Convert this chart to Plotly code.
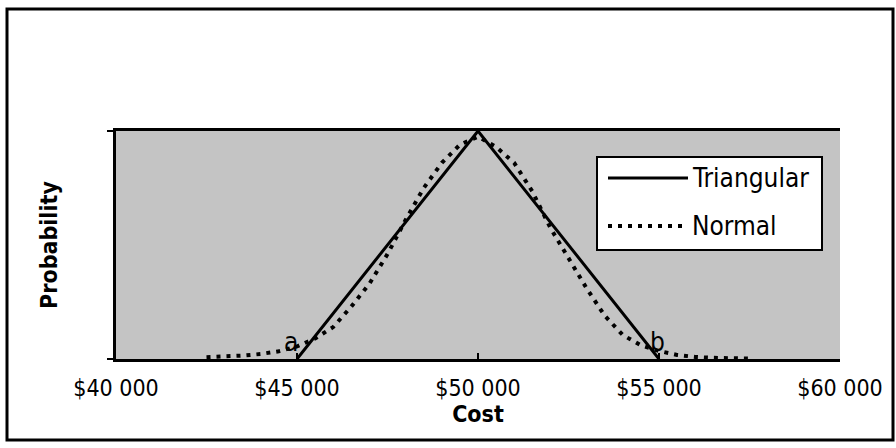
import plotly.graph_objects as go

# ---- data ----
tri_cost = [45000, 50000, 55000]
tri_prob = [0.0, 1.0, 0.0]

normal_cost = [42500, 43000, 43500, 44000, 44500, 45000, 45500, 46000, 46500,
               47000, 47500, 48000, 48500, 49000, 49500, 50000, 50500, 51000,
               51500, 52000, 52500, 53000, 53500, 54000, 54500, 55000, 55500,
               56000, 56500, 57000, 57500]
normal_prob = [0.008, 0.011, 0.015, 0.022, 0.034, 0.055, 0.09, 0.14, 0.23,
               0.33, 0.46, 0.61, 0.75, 0.86, 0.94, 0.975, 0.93, 0.86,
               0.735, 0.575, 0.44, 0.31, 0.19, 0.105, 0.06, 0.035, 0.018,
               0.009, 0.005, 0.003, 0.002]

tick_vals = [40000, 45000, 50000, 55000, 60000]
tick_text = ["$40 000", "$45 000", "$50 000", "$55 000", "$60 000"]

point_labels = ["a", "b"]
point_label_cost = [44830, 54950]
point_label_prob = [0.075, 0.075]

series_names = ["Triangular", "Normal"]

FONT = "DejaVu Sans Condensed, DejaVu Sans, sans-serif"

fig = go.Figure()
fig.add_trace(go.Scatter(x=tri_cost, y=tri_prob, mode="lines", name=series_names[0],
                         line=dict(color="black", width=3), showlegend=False))
fig.add_trace(go.Scatter(x=normal_cost, y=normal_prob, mode="lines", name=series_names[1],
                         line=dict(color="black", width=4, dash="4px,6px"),
                         showlegend=False))

for t, cx, cy in zip(point_labels, point_label_cost, point_label_prob):
    fig.add_annotation(x=cx, y=cy, xref="x", yref="y", text=t, showarrow=False,
                       font=dict(family=FONT, size=26, color="black"))

# manual legend (box, sample lines, labels) in paper coordinates
L, T, W, H = 116, 131, 724, 228
def px(x):
    return (x - L) / W
def py(y):
    return (T + H - y) / H

fig.add_shape(type="rect", xref="paper", yref="paper",
              x0=px(597), x1=px(822), y0=py(250), y1=py(157),
              line=dict(color="black", width=2), fillcolor="white", layer="above")
fig.add_shape(type="line", xref="paper", yref="paper",
              x0=px(608), x1=px(688), y0=py(178), y1=py(178),
              line=dict(color="black", width=3), layer="above")
fig.add_shape(type="line", xref="paper", yref="paper",
              x0=px(608), x1=px(688), y0=py(226), y1=py(226),
              line=dict(color="black", width=4, dash="4px,6px"), layer="above")
fig.add_annotation(xref="paper", yref="paper", x=px(690), y=py(178), text=series_names[0],
                   showarrow=False, xanchor="left", yanchor="middle",
                   font=dict(family=FONT, size=26, color="black"))
fig.add_annotation(xref="paper", yref="paper", x=px(690), y=py(226), text=series_names[1],
                   showarrow=False, xanchor="left", yanchor="middle",
                   font=dict(family=FONT, size=26, color="black"))

# outer border of the whole chart
fig.add_shape(type="rect", xref="paper", yref="paper",
              x0=px(7), x1=px(893), y0=py(440), y1=py(9),
              line=dict(color="black", width=3), fillcolor="rgba(0,0,0,0)", layer="below")

fig.update_layout(
    width=896, height=448,
    margin=dict(l=L, r=896 - L - W, t=T, b=448 - T - H),
    paper_bgcolor="white", plot_bgcolor="#c4c4c4",
    font=dict(family=FONT, color="black"),
    showlegend=False,
)
fig.update_xaxes(range=[40000, 60000], tickvals=tick_vals, ticktext=tick_text,
                 tickfont=dict(size=23), ticks="inside", ticklen=6, tickwidth=2,
                 tickcolor="black", showline=True, linecolor="black", linewidth=3,
                 mirror=True, showgrid=False, zeroline=False,
                 ticklabelstandoff=6,
                 title=dict(text="<b>Cost</b>", font=dict(size=23), standoff=3))
fig.update_yaxes(range=[0, 1], tickvals=[0, 1], ticktext=["", ""], ticks="outside",
                 ticklen=6, tickwidth=2, tickcolor="black", showline=True,
                 linecolor="black", linewidth=3, showgrid=False, zeroline=False,
                 title=dict(text="<b>Probability</b>", font=dict(size=23), standoff=41))

fig.write_html("out.html", config={"displayModeBar": False},
               post_script="document.body.style.margin='0';")
